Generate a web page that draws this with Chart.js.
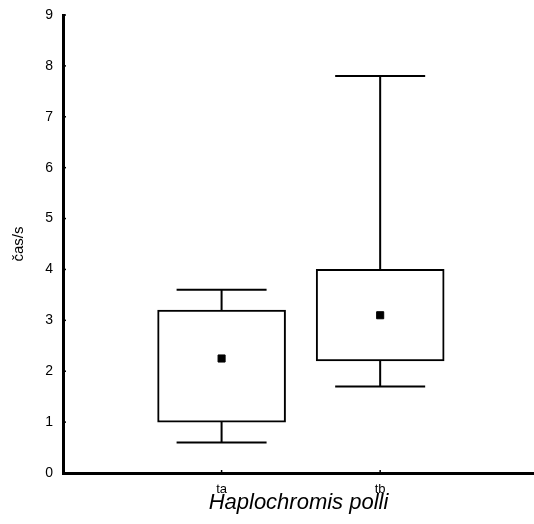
<!DOCTYPE html>
<html>
<head>
<meta charset="utf-8">
<script src="https://cdn.jsdelivr.net/npm/chart.js@4/dist/chart.umd.min.js"></script>
<style>
  html, body { margin: 0; padding: 0; background: #fff; }
  #wrap { width: 534px; height: 524px; }
</style>
</head>
<body>
<div id="wrap"><canvas id="c" width="534" height="524"></canvas></div>
<script>
// Box-and-whisker summary per group
const categories = ['ta', 'tb'];
const whiskerLow = [0.6, 1.7];
const boxLow = [1.0, 2.2];
const centers = [2.25, 3.1];
const boxHigh = [3.2, 4.0];
const whiskerHigh = [3.6, 7.8];
const yTicks = [0, 1, 2, 3, 4, 5, 6, 7, 8, 9];

const FONT = "'Liberation Sans', Arial, sans-serif";

// Whiskers, caps and small inward tick marks, drawn through the chart scales
const whiskerPlugin = {
  id: 'whiskers',
  afterDatasetsDraw(chart) {
    const { ctx, scales: { x, y } } = chart;
    ctx.save();
    ctx.strokeStyle = '#000';
    ctx.lineWidth = 2;
    ctx.lineCap = 'butt';
    const capHalf = 45;
    categories.forEach((c, i) => {
      const px = x.getPixelForValue(i + 1);
      const segs = [
        [boxHigh[i], whiskerHigh[i]],
        [boxLow[i], whiskerLow[i]]
      ];
      segs.forEach(([from, to]) => {
        const y0 = y.getPixelForValue(from);
        const y1 = y.getPixelForValue(to);
        ctx.beginPath();
        ctx.moveTo(px, y0);
        ctx.lineTo(px, y1);
        ctx.moveTo(px - capHalf, y1);
        ctx.lineTo(px + capHalf, y1);
        ctx.stroke();
      });
    });
    // inward tick marks
    ctx.lineWidth = 1.5;
    const left = chart.chartArea.left;
    yTicks.forEach(v => {
      const py = y.getPixelForValue(v);
      ctx.beginPath();
      ctx.moveTo(left, py);
      ctx.lineTo(left + 3, py);
      ctx.stroke();
    });
    const bottom = chart.chartArea.bottom;
    categories.forEach((c, i) => {
      const px = x.getPixelForValue(i + 1);
      ctx.beginPath();
      ctx.moveTo(px, bottom);
      ctx.lineTo(px, bottom - 3);
      ctx.stroke();
    });
    ctx.restore();
  }
};

new Chart(document.getElementById('c'), {
  data: {
    datasets: [
      {
        type: 'bar',
        data: categories.map((c, i) => ({ x: i + 1, y: [boxLow[i], boxHigh[i]] })),
        backgroundColor: '#fff',
        borderColor: '#000',
        borderWidth: 2,
        borderSkipped: false,
        barThickness: 128,
        order: 2
      },
      {
        type: 'scatter',
        data: categories.map((c, i) => ({ x: i + 1, y: centers[i] })),
        pointStyle: 'rect',
        pointRadius: 5,
        backgroundColor: '#000',
        borderColor: '#000',
        borderWidth: 1,
        order: 1
      }
    ]
  },
  plugins: [whiskerPlugin],
  options: {
    responsive: false,
    animation: false,
    layout: { autoPadding: false, padding: { top: 15, right: 0, left: 0, bottom: 0 } },
    plugins: { legend: { display: false }, tooltip: { enabled: false } },
    scales: {
      x: {
        type: 'linear',
        offset: false,
        min: 0,
        max: 2.97,
        grid: { display: false, drawTicks: false },
        border: { display: true, color: '#000', width: 3 },
        afterBuildTicks: s => { s.ticks = categories.map((c, i) => ({ value: i + 1 })); },
        afterFit: s => { s.height = 51; s.paddingLeft = 0; s.paddingRight = 0; },
        ticks: {
          color: '#000',
          padding: 9,
          maxRotation: 0,
          autoSkip: false,
          font: { family: FONT, size: 13 },
          callback: v => categories[v - 1] || ''
        },
        title: {
          display: true,
          text: 'Haplochromis polli',
          color: '#000',
          padding: { top: 0, bottom: 8 },
          font: { family: FONT, size: 22, style: 'italic' }
        }
      },
      y: {
        min: 0,
        max: 9,
        grid: { display: false, drawTicks: false },
        border: { display: true, color: '#000', width: 3 },
        afterBuildTicks: s => { s.ticks = yTicks.map(v => ({ value: v })); },
        afterFit: s => { s.width = 63; s.paddingTop = 0; s.paddingBottom = 0; },
        ticks: {
          color: '#000',
          padding: 10,
          font: { family: FONT, size: 14 }
        },
        title: {
          display: true,
          text: 'čas/s',
          color: '#000',
          padding: { top: 10, bottom: 0 },
          font: { family: FONT, size: 15 }
        }
      }
    }
  }
});
</script>
</body>
</html>
